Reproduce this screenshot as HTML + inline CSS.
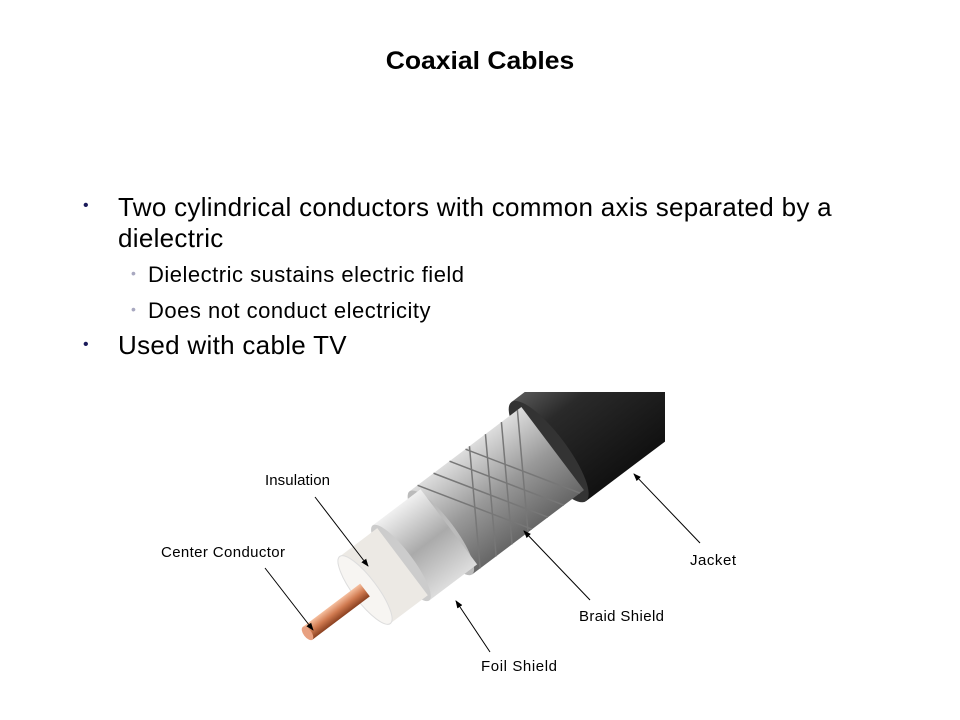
<!DOCTYPE html>
<html><head><style>
body{margin:0;width:960px;height:720px;background:#fff;position:relative;font-family:"Liberation Sans",Arial,sans-serif;overflow:hidden}
.t{position:absolute;white-space:nowrap;color:#000}
</style></head><body>
<div class="t" style="left:0;width:960px;text-align:center;top:47px;font-size:25px;font-weight:bold;transform:scaleX(1.06)">Coaxial Cables</div>
<div class="t" style="left:83px;top:197px;font-size:16px;color:#1a1a5a">•</div>
<div class="t" style="left:118px;top:192px;font-size:26px;line-height:31px;letter-spacing:0.3px">Two cylindrical conductors with common axis separated by a<br>dielectric</div>
<div class="t" style="left:131px;top:265px;font-size:14px;color:#a8a8c0">•</div>
<div class="t" style="left:148px;top:262px;font-size:22px;letter-spacing:0.5px">Dielectric sustains electric field</div>
<div class="t" style="left:131px;top:301px;font-size:14px;color:#a8a8c0">•</div>
<div class="t" style="left:148px;top:298px;font-size:22px;letter-spacing:0.5px">Does not conduct electricity</div>
<div class="t" style="left:83px;top:336px;font-size:16px;color:#1a1a5a">•</div>
<div class="t" style="left:118px;top:330px;font-size:26px;letter-spacing:0.3px">Used with cable TV</div>
<svg width="960" height="720" style="position:absolute;left:0;top:0">
<defs>
<clipPath id="c"><rect x="150" y="392" width="515" height="300"/></clipPath>
<linearGradient id="jk" x1="0" y1="0" x2="0" y2="1"><stop offset="0" stop-color="#555"/><stop offset="0.3" stop-color="#2a2a2a"/><stop offset="1" stop-color="#111"/></linearGradient>
<linearGradient id="br" x1="0" y1="0" x2="0" y2="1"><stop offset="0" stop-color="#ddd"/><stop offset="0.5" stop-color="#999"/><stop offset="1" stop-color="#666"/></linearGradient>
<linearGradient id="fo" x1="0" y1="0" x2="0" y2="1"><stop offset="0" stop-color="#f0f0f0"/><stop offset="0.5" stop-color="#aaa"/><stop offset="1" stop-color="#ddd"/></linearGradient>
<linearGradient id="cu" x1="0" y1="0" x2="0" y2="1"><stop offset="0" stop-color="#f6c0a0"/><stop offset="0.5" stop-color="#d07a50"/><stop offset="1" stop-color="#8a4020"/></linearGradient>
<marker id="a" markerWidth="8" markerHeight="8" refX="7" refY="4" orient="auto"><path d="M0,1 L8,4 L0,7z" fill="#000"/></marker>
</defs>
<g clip-path="url(#c)">
<g transform="translate(365,590) rotate(-37)">
<rect x="230" y="-62" width="300" height="124" fill="url(#jk)"/>
<ellipse cx="230" cy="0" rx="18" ry="62" fill="#333"/>
<rect x="95" y="-52" width="140" height="104" fill="url(#br)"/>
<ellipse cx="95" cy="0" rx="14" ry="52" fill="#bbb"/>
<g stroke="#777" stroke-width="1.5" fill="none">
<path d="M105,-52 L170,52 M125,-52 L190,52 M145,-52 L210,52 M165,-52 L230,52 M105,52 L170,-52 M125,52 L190,-52 M145,52 L210,-52 M165,52 L230,-52"/>
</g>
<rect x="45" y="-47" width="60" height="94" fill="url(#fo)"/>
<ellipse cx="45" cy="0" rx="12" ry="47" fill="#ccc"/>
<rect x="0" y="-42" width="47" height="84" fill="#ece9e4"/>
<ellipse cx="0" cy="0" rx="12" ry="42" fill="#f7f5f2" stroke="#ddd"/>
<rect x="-72" y="-8" width="72" height="16" fill="url(#cu)"/>
<ellipse cx="-72" cy="0" rx="4" ry="8" fill="#e8a080"/>
</g>
</g>
<g stroke="#000" stroke-width="1" marker-end="url(#a)">
<line x1="315" y1="497" x2="368" y2="566"/>
<line x1="265" y1="568" x2="313" y2="630"/>
<line x1="490" y1="652" x2="456" y2="601"/>
<line x1="590" y1="600" x2="524" y2="531"/>
<line x1="700" y1="543" x2="634" y2="474"/>
</g>
<g font-family="Liberation Sans, Arial, sans-serif" font-size="15" fill="#000">
<text x="265" y="485" textLength="65">Insulation</text>
<text x="161" y="557" textLength="124">Center Conductor</text>
<text x="690" y="565" textLength="46">Jacket</text>
<text x="579" y="621" textLength="85">Braid Shield</text>
<text x="481" y="671" textLength="76">Foil Shield</text>
</g>
</svg>
</body></html>
